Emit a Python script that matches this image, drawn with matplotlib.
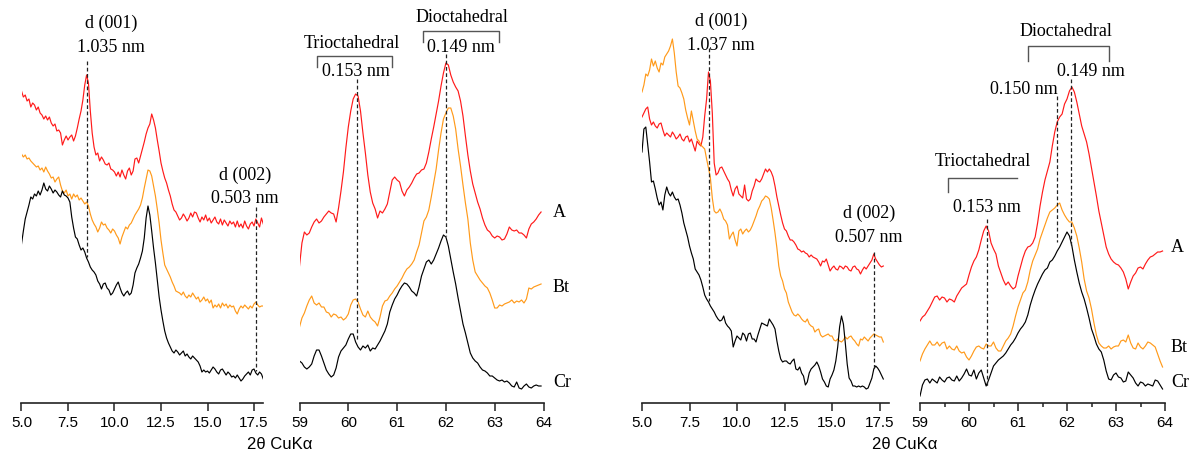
import numpy as np
import matplotlib
matplotlib.use('Agg')
import matplotlib.pyplot as plt
from matplotlib.ticker import MultipleLocator

# 2theta sampling of the digitised patterns (deg, CuKa)
theta_001_left = np.round(np.arange(5.0, 18.05, 0.1), 2)
theta_001_right = np.round(np.arange(5.0, 17.75, 0.1), 2)
theta_060 = np.round(np.arange(59.0, 63.999, 0.05), 2)

# left profile, 001 region (relative intensity, stacked)
left_001_A = [312, 306, 308, 302, 304, 296, 300, 298, 293, 296,
              290, 288, 284, 287, 283, 286, 280, 277, 279, 272,
              273, 270, 258, 263, 267, 263, 266, 268, 262, 267,
              275, 284, 292, 303, 318, 328, 320, 292, 270, 256,
              248, 250, 242, 246, 243, 239, 238, 240, 234, 233,
              231, 227, 231, 226, 233, 228, 224, 232, 235, 228,
              232, 244, 245, 240, 247, 254, 261, 269, 275, 279,
              289, 283, 275, 263, 252, 240, 232, 225, 220, 213,
              207, 199, 193, 191, 187, 183, 185, 189, 186, 182,
              185, 190, 186, 191, 190, 185, 181, 186, 183, 188,
              182, 185, 180, 183, 186, 181, 179, 184, 178, 183,
              180, 177, 182, 179, 181, 176, 182, 176, 179, 175,
              182, 177, 174, 179, 181, 177, 184, 180, 176, 185,
              179]
left_001_Bt = [249, 246, 248, 244, 245, 242, 240, 238, 236, 237,
               233, 235, 231, 236, 232, 229, 225, 226, 221, 224,
               226, 218, 212, 210, 213, 207, 209, 204, 209, 206,
               208, 203, 205, 202, 199, 201, 197, 189, 183, 179,
               176, 171, 175, 181, 178, 179, 175, 173, 170, 174,
               172, 168, 165, 159, 166, 171, 176, 174, 178, 180,
               184, 188, 191, 194, 198, 205, 215, 224, 233, 232,
               227, 217, 207, 194, 180, 163, 150, 138, 134, 130,
               126, 121, 117, 112, 111, 110, 108, 111, 107, 105,
               108, 106, 110, 107, 104, 106, 101, 103, 106, 102,
               104, 100, 103, 95, 98, 96, 99, 95, 100, 97,
               99, 95, 98, 96, 97, 92, 89, 94, 97, 95,
               98, 96, 94, 97, 95, 99, 101, 98, 96, 97,
               97]
left_001_Cr = [159, 172, 184, 191, 198, 206, 204, 209, 207, 212,
               208, 213, 220, 214, 212, 217, 214, 210, 213, 211,
               208, 206, 212, 208, 207, 205, 201, 186, 175, 166,
               164, 158, 153, 155, 151, 145, 141, 136, 133, 131,
               128, 122, 119, 114, 119, 120, 115, 113, 108, 110,
               114, 118, 121, 115, 110, 107, 110, 112, 108, 110,
               118, 130, 135, 139, 145, 152, 165, 185, 197, 188,
               172, 155, 140, 123, 106, 93, 82, 72, 65, 60,
               56, 52, 50, 53, 51, 48, 50, 52, 47, 49,
               46, 44, 47, 45, 43, 41, 37, 31, 33, 31,
               32, 30, 33, 36, 34, 31, 29, 33, 34, 31,
               28, 31, 29, 26, 27, 25, 28, 25, 22, 24,
               27, 29, 31, 28, 33, 34, 30, 28, 31, 29,
               24]

# left profile, 060 region
left_060_A = [137, 160, 171, 168, 170, 176, 181, 184, 180, 182,
              186, 189, 192, 190, 189, 181, 195, 212, 231, 255,
              276, 292, 304, 309, 307, 292, 270, 250, 228, 211,
              200, 194, 185, 192, 190, 194, 199, 211, 223, 226,
              223, 221, 212, 207, 213, 216, 220, 225, 229, 230,
              233, 234, 240, 251, 264, 276, 289, 302, 317, 330,
              340, 338, 328, 321, 316, 312, 302, 287, 267, 248,
              232, 219, 210, 201, 194, 185, 178, 173, 171, 167,
              165, 167, 166, 163, 164, 169, 176, 173, 172, 173,
              170, 170, 168, 165, 174, 179, 181, 184, 188, 191]
left_060_Bt = [76, 85, 90, 97, 103, 107, 100, 98, 100, 96,
               96, 91, 90, 86, 89, 88, 85, 86, 83, 85,
               89, 98, 103, 104, 101, 94, 88, 86, 92, 86,
               83, 81, 77, 86, 97, 102, 103, 107, 110, 114,
               117, 121, 125, 130, 134, 136, 139, 143, 151, 158,
               170, 182, 186, 193, 206, 220, 234, 253, 270, 284,
               290, 295, 295, 287, 274, 254, 237, 218, 200, 184,
               160, 143, 131, 127, 123, 120, 117, 115, 110, 103,
               95, 95, 98, 97, 99, 100, 101, 103, 100, 102,
               101, 103, 100, 104, 115, 114, 116, 117, 118, 119]
left_060_Cr = [42, 40, 36, 34, 36, 39, 47, 53, 53, 47,
               40, 33, 29, 26, 28, 35, 46, 52, 55, 58,
               64, 69, 69, 61, 56, 53, 57, 55, 58, 52,
               55, 54, 58, 62, 67, 72, 79, 91, 98, 104,
               108, 113, 117, 120, 119, 116, 112, 110, 107, 116,
               127, 134, 141, 143, 139, 143, 149, 155, 162, 168,
               166, 157, 144, 131, 119, 105, 92, 79, 70, 60,
               50, 45, 42, 40, 36, 33, 32, 30, 27, 27,
               25, 23, 22, 23, 21, 22, 20, 17, 16, 21,
               15, 14, 17, 19, 16, 15, 17, 18, 17, 17]

# right profile, 001 region
right_001_A = [286, 290, 294, 296, 284, 278, 281, 277, 275, 279,
               280, 273, 267, 270, 268, 266, 271, 268, 264, 266,
               269, 264, 262, 266, 267, 261, 264, 258, 252, 262,
               259, 257, 266, 287, 304, 331, 322, 290, 240, 228,
               230, 235, 236, 232, 228, 224, 221, 213, 207, 214,
               217, 209, 207, 205, 218, 204, 202, 204, 212, 217,
               224, 222, 221, 224, 229, 234, 231, 234, 231, 226,
               217, 206, 197, 188, 180, 174, 172, 167, 163, 163,
               161, 158, 154, 153, 151, 152, 150, 149, 146, 148,
               146, 145, 144, 141, 137, 142, 141, 144, 138, 132,
               135, 137, 134, 133, 137, 136, 134, 137, 136, 133,
               132, 136, 137, 134, 133, 129, 133, 136, 134, 137,
               140, 143, 149, 144, 141, 138, 136, 137]
right_001_Bt = [311, 318, 329, 327, 333, 344, 337, 342, 335, 331,
                340, 338, 346, 349, 352, 357, 364, 350, 331, 317,
                315, 310, 304, 293, 285, 278, 292, 282, 272, 264,
                262, 258, 256, 254, 244, 235, 225, 205, 192, 190,
                191, 194, 190, 184, 182, 178, 164, 168, 171, 163,
                157, 172, 174, 169, 172, 174, 171, 173, 177, 182,
                187, 193, 197, 202, 204, 207, 206, 204, 195, 183,
                170, 155, 137, 127, 122, 114, 110, 101, 96, 91,
                88, 87, 89, 87, 84, 82, 81, 84, 79, 77,
                76, 71, 73, 74, 68, 66, 67, 68, 69, 67,
                67, 63, 62, 64, 62, 61, 63, 66, 64, 66,
                67, 64, 62, 59, 57, 64, 63, 66, 64, 62,
                65, 67, 69, 68, 67, 66, 66, 61]
right_001_Cr = [251, 274, 276, 259, 241, 221, 222, 214, 205, 198,
                201, 193, 208, 216, 210, 207, 211, 206, 203, 204,
                198, 190, 180, 173, 166, 157, 150, 144, 134, 131,
                128, 123, 116, 108, 104, 101, 97, 94, 91, 87,
                84, 82, 83, 87, 80, 77, 75, 72, 56, 62,
                67, 65, 63, 70, 68, 62, 69, 70, 64, 64,
                61, 68, 74, 80, 79, 78, 77, 84, 81, 78,
                74, 62, 52, 44, 41, 42, 42, 40, 39, 42,
                44, 34, 33, 36, 30, 27, 18, 21, 30, 34,
                36, 38, 41, 37, 31, 24, 21, 17, 16, 24,
                28, 33, 42, 56, 76, 87, 79, 60, 39, 25,
                22, 17, 17, 16, 17, 16, 17, 16, 14, 15,
                20, 25, 34, 37, 35, 32, 28, 24]

# right profile, 060 region
right_060_A = [82, 86, 88, 92, 96, 101, 106, 107, 103, 106,
               105, 101, 104, 103, 101, 107, 111, 115, 117, 119,
               128, 136, 142, 146, 153, 163, 172, 177, 172, 160,
               154, 149, 137, 130, 123, 118, 121, 117, 114, 116,
               127, 136, 145, 152, 156, 157, 160, 166, 180, 197,
               211, 223, 232, 241, 257, 271, 281, 286, 289, 299,
               304, 312, 316, 311, 301, 289, 277, 269, 261, 249,
               235, 221, 207, 192, 180, 168, 156, 149, 144, 141,
               139, 138, 135, 131, 124, 114, 121, 127, 130, 135,
               136, 134, 139, 143, 146, 147, 149, 151, 151, 152]
right_060_Bt = [42, 49, 54, 58, 62, 58, 58, 61, 57, 60,
                61, 54, 57, 54, 53, 57, 52, 50, 51, 46,
                43, 47, 52, 56, 57, 55, 54, 59, 57, 57,
                61, 55, 52, 52, 57, 62, 65, 69, 77, 87,
                96, 103, 110, 113, 121, 133, 142, 148, 154, 164,
                171, 178, 185, 191, 193, 195, 198, 200, 193, 188,
                184, 181, 181, 175, 167, 155, 141, 124, 112, 105,
                94, 80, 68, 60, 57, 55, 55, 57, 54, 56,
                57, 57, 62, 63, 61, 68, 60, 55, 54, 60,
                56, 54, 57, 61, 60, 58, 56, 49, 42, 36]
right_060_Cr = [7, 18, 23, 24, 20, 24, 22, 20, 26, 23,
                21, 25, 26, 23, 22, 27, 22, 25, 29, 34,
                28, 27, 33, 24, 30, 33, 25, 17, 23, 30,
                37, 40, 43, 45, 47, 50, 54, 58, 61, 65,
                70, 74, 77, 81, 88, 98, 106, 113, 119, 124,
                129, 133, 135, 141, 143, 147, 152, 156, 161, 166,
                171, 167, 157, 143, 131, 120, 111, 104, 95, 85,
                74, 67, 59, 54, 51, 43, 32, 24, 23, 28,
                30, 26, 25, 21, 22, 31, 28, 25, 20, 17,
                21, 20, 17, 19, 18, 17, 23, 22, 18, 14]

horizon_names = ['A', 'Bt', 'Cr']
horizon_colors = ['#ff1a1a', '#ff9a1a', '#000000']

W, H = 1194, 464
AXIS_Y = 404  # pixel row of the x-axis line
SERIF = ['Liberation Serif', 'DejaVu Serif']
SANS = ['Liberation Sans', 'DejaVu Sans']

fig = plt.figure(figsize=(W / 100, H / 100), dpi=100)


def make_panel(x0, x1, xlim, major, fmt, minor=None):
    ax = fig.add_axes([x0 / W, (H - AXIS_Y) / H, (x1 - x0) / W, AXIS_Y / H])
    ax.set_xlim(*xlim)
    ax.set_ylim(0, AXIS_Y)
    for side in ('top', 'left', 'right'):
        ax.spines[side].set_visible(False)
    ax.spines['bottom'].set_linewidth(1.2)
    ax.spines['bottom'].set_color('#222222')
    ax.set_yticks([])
    ax.xaxis.set_major_locator(MultipleLocator(major))
    ax.xaxis.set_major_formatter(fmt)
    if minor:
        ax.xaxis.set_minor_locator(MultipleLocator(minor))
        ax.tick_params(axis='x', which='minor', direction='out', length=3, width=1.1, color='#222222')
    ax.tick_params(axis='x', which='major', direction='out', length=5.5, width=1.1, color='#222222',
                   pad=3, labelsize=11)
    for lab in ax.get_xticklabels():
        lab.set_family(SANS)
    ax.patch.set_alpha(0)
    return ax


def draw_profiles(ax, theta, series):
    for values, color in zip(series, horizon_colors):
        ax.plot(theta, values, color=color, lw=0.85)


def dashed(ax, x, y0, y1):
    ax.plot([x, x], [y0, y1], color='#222222', lw=0.9, ls=(0, (3, 2)))


def bracket(ax, xa, xb, ytop, ybot, right_leg=True):
    xs = [xa, xa, xb] + ([xb] if right_leg else [])
    ys = [ybot, ytop, ytop] + ([ybot] if right_leg else [])
    ax.plot(xs, ys, color='#555555', lw=1.0, clip_on=False)


def label(ax, x, y, s, ha='center', size=13):
    ax.text(x, y, s, ha=ha, va='center', fontsize=size, family=SERIF, clip_on=False)


# ---- left sample ----
ax1 = make_panel(21.5, 263.3, (5, 18), 2.5, '{x:.1f}')
draw_profiles(ax1, theta_001_left, [left_001_A, left_001_Bt, left_001_Cr])
dashed(ax1, 8.54, 342, 146)
dashed(ax1, 17.61, 196, 32)
label(ax1, 9.81, 381, 'd (001)')
label(ax1, 9.81, 356, '1.035 nm')
label(ax1, 17.02, 229, 'd (002)')
label(ax1, 17.02, 205, '0.503 nm')

ax2 = make_panel(299.5, 543.5, (59, 64), 1, '{x:.0f}')
draw_profiles(ax2, theta_060, [left_060_A, left_060_Bt, left_060_Cr])
dashed(ax2, 60.17, 324, 62)
dashed(ax2, 62.0, 349, 167)
label(ax2, 60.08, 361, 'Trioctahedral')
bracket(ax2, 59.36, 60.90, 347, 336)
label(ax2, 60.16, 332, '0.153 nm')
label(ax2, 62.33, 386, 'Dioctahedral')
bracket(ax2, 61.53, 63.09, 372, 361)
label(ax2, 62.31, 356, '0.149 nm')
for name, yv in zip(horizon_names, [191, 116, 21]):
    label(ax2, 64.19, yv, name, ha='left')

# ---- right sample ----
ax3 = make_panel(642, 889, (5, 18), 2.5, '{x:.1f}')
draw_profiles(ax3, theta_001_right, [right_001_A, right_001_Bt, right_001_Cr])
dashed(ax3, 8.51, 355, 102)
dashed(ax3, 17.20, 151, 35)
label(ax3, 9.17, 383, 'd (001)')
label(ax3, 9.17, 358, '1.037 nm')
label(ax3, 16.94, 191, 'd (002)')
label(ax3, 16.94, 166, '0.507 nm')

ax4 = make_panel(920, 1165, (59, 64), 1, '{x:.0f}', minor=0.5)
draw_profiles(ax4, theta_060, [right_060_A, right_060_Bt, right_060_Cr])
dashed(ax4, 61.80, 307, 161)
dashed(ax4, 62.08, 324, 158)
dashed(ax4, 60.37, 184, 17)
label(ax4, 61.98, 372, 'Dioctahedral')
bracket(ax4, 61.20, 62.86, 357, 342)
label(ax4, 62.49, 332, '0.149 nm')
label(ax4, 61.12, 315, '0.150 nm')
label(ax4, 60.29, 242, 'Trioctahedral')
bracket(ax4, 59.57, 60.98, 225, 211, right_leg=False)
label(ax4, 60.37, 196, '0.153 nm')
for name, yv in zip(horizon_names, [156, 56, 21]):
    label(ax4, 64.12, yv, name, ha='left')

for xc in (280, 905):
    fig.text(xc / W, 1 - 445 / H, '2\u03b8 CuK\u03b1', ha='center', va='center', fontsize=12, family=SANS)

fig.savefig('out.png', dpi=100)
